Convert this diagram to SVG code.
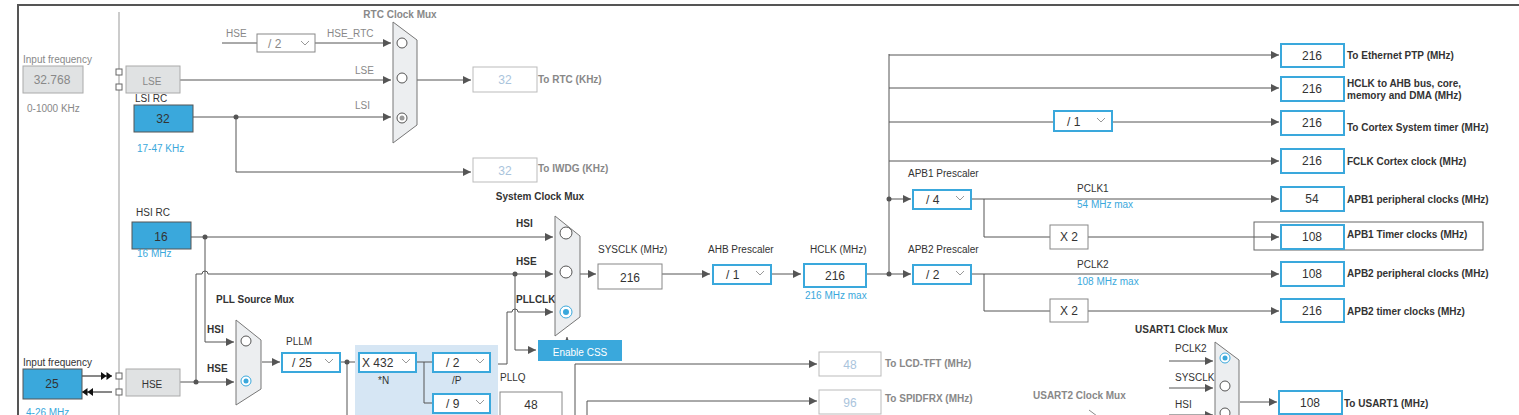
<svg xmlns="http://www.w3.org/2000/svg" width="1519" height="415" viewBox="0 0 1519 415">
<style>
text{font-family:"Liberation Sans",Arial,sans-serif;font-size:10px;fill:#333}
.b{font-weight:bold}
.g{fill:#888}
.bl{fill:#3aa8dc}
.w{fill:#fff}
.lt{fill:#aac4dc}
.c{text-anchor:middle}
.big{font-size:12px}
.ln{stroke:#555;stroke-width:1;fill:none}
.box{fill:#fff;stroke:#3aa8dc;stroke-width:2}
.gbox{fill:#fff;stroke:#888;stroke-width:1}
.lbox{fill:#fff;stroke:#bbb;stroke-width:1}
.blue{fill:#3aa8dc;stroke:#555;stroke-width:1}
.gray{fill:#e0e2e3;stroke:#aaa;stroke-width:1}
.mux{fill:#eceef0;stroke:#777;stroke-width:1}
.ci{fill:#fff;stroke:#555;stroke-width:1}
.sel{fill:#fff;stroke:#3aa8dc;stroke-width:1}
.dot{fill:#555}
.chev{fill:none;stroke:#999;stroke-width:1}
</style>
<defs>
<marker id="a" viewBox="0 0 10 10" refX="10" refY="5" markerWidth="8" markerHeight="8" orient="auto" markerUnits="userSpaceOnUse"><path d="M0,0L10,5L0,10z" fill="#555"/></marker>
<marker id="dbl" viewBox="0 0 14 10" refX="14" refY="5" markerWidth="11" markerHeight="8" orient="auto" markerUnits="userSpaceOnUse"><path d="M0,0L7,5L0,10zM7,0L14,5L7,10z" fill="#111"/></marker>
</defs>
<rect width="1519" height="415" fill="#fff"/>
<path d="M18,415V5H1519" stroke="#555" stroke-width="2" fill="none"/>
<line x1="119" y1="12" x2="119" y2="415" stroke="#999"/>

<g id="connectors">
<path class="ln" d="M222,43H257M315,43H391" marker-end="url(#a)"/>
<path class="ln" d="M180,80H391" marker-end="url(#a)"/>
<path class="ln" d="M193,117H391" marker-end="url(#a)"/>
<path class="ln" d="M236,117V172H471" marker-end="url(#a)"/>
<path class="ln" d="M417,80H471" marker-end="url(#a)"/>
<path class="ln" d="M191,237H553" marker-end="url(#a)"/>
<path class="ln" d="M205,237V342H234" marker-end="url(#a)"/>
<path class="ln" d="M196,382V274H202a3,3 0 0 1 6,0H553" marker-end="url(#a)"/>
<path class="ln" d="M180,382H234" marker-end="url(#a)"/>
<path class="ln" d="M515,274V350H536" marker-end="url(#a)"/>
<path class="ln" d="M490,364H507V312H512a3,3 0 0 1 6,0H553" marker-end="url(#a)"/>
<path class="ln" d="M567,340V337" marker-end="url(#a)"/>
<path class="ln" d="M262,362H280" marker-end="url(#a)"/>
<path class="ln" d="M340,362H358M347,362V415"/>
<path class="ln" d="M580,274H596" marker-end="url(#a)"/>
<path class="ln" d="M662,274H710" marker-end="url(#a)"/>
<path class="ln" d="M771,274H801" marker-end="url(#a)"/>
<path class="ln" d="M866,274H911" marker-end="url(#a)"/>
<path class="ln" d="M889,274V54"/>
<path class="ln" d="M889,199H911" marker-end="url(#a)"/>
<path class="ln" d="M889,55H1279" marker-end="url(#a)"/>
<path class="ln" d="M889,88H1279" marker-end="url(#a)"/>
<path class="ln" d="M889,122H1054M1112,122H1279" marker-end="url(#a)"/>
<path class="ln" d="M889,161H1279" marker-end="url(#a)"/>
<path class="ln" d="M971,199H1279" marker-end="url(#a)"/>
<path class="ln" d="M984,199V237H1050M1088,237H1279" marker-end="url(#a)"/>
<path class="ln" d="M971,274H1279" marker-end="url(#a)"/>
<path class="ln" d="M984,274V311H1050M1088,311H1279" marker-end="url(#a)"/>
<path class="ln" d="M575,415V364H817" marker-end="url(#a)"/>
<path class="ln" d="M587,415V401H817" marker-end="url(#a)"/>
<path class="ln" d="M1169,361H1213" marker-end="url(#a)"/>
<path class="ln" d="M1169,388H1213" marker-end="url(#a)"/>
<path class="ln" d="M1169,415H1213" marker-end="url(#a)"/>
<path class="ln" d="M1240,402H1277" marker-end="url(#a)"/>
<path d="M82,376H112" stroke="#111" marker-end="url(#dbl)"/>
<path d="M112,392H82" stroke="#111" marker-end="url(#dbl)"/>
<circle class="dot" cx="236" cy="117" r="2.5"/>
<circle class="dot" cx="205" cy="237" r="2.5"/>
<circle class="dot" cx="196" cy="382" r="2.5"/>
<circle class="dot" cx="515" cy="274" r="2.5"/>
<circle class="dot" cx="347" cy="362" r="2.5"/>
<circle class="dot" cx="889" cy="274" r="2.5"/>
<circle class="dot" cx="889" cy="199" r="2.5"/>
</g>

<g id="lse-input">
<text x="23" y="63" class="g">Input frequency</text>
<rect x="23" y="66" width="60" height="27" class="gray"/>
<text x="52" y="84" class="c g big">32.768</text>
<text x="27" y="112" class="g">0-1000 KHz</text>
<rect x="116" y="69" width="6" height="6" fill="#fff" stroke="#666"/>
<rect x="116" y="84" width="6" height="6" fill="#fff" stroke="#666"/>
<rect x="126" y="66" width="54" height="27" class="gray"/>
<text x="152" y="85" class="c g" font-size="15">LSE</text>
</g>
<g id="lsi">
<text x="135" y="102">LSI RC</text>
<rect x="134" y="105" width="59" height="27" class="blue"/>
<text x="163" y="123" class="c big">32</text>
<text x="137" y="152" class="bl">17-47 KHz</text>
</g>
<g id="rtc-mux">
<text x="400" y="18" class="c b g" font-size="9">RTC Clock Mux</text>
<text x="226" y="37" class="g">HSE</text>
<rect x="257" y="34" width="58" height="18" class="gbox" stroke="#aaa"/>
<text x="268" y="48" class="g big">/ 2</text>
<path class="chev" d="M301,41l4,4l4,-4"/>
<text x="327" y="37" class="g">HSE_RTC</text>
<text x="355" y="74" class="g">LSE</text>
<text x="355" y="109" class="g">LSI</text>
<path class="mux" d="M393,22L417,40V125L393,143Z"/>
<circle class="ci" cx="402" cy="43" r="5"/>
<circle class="ci" cx="402" cy="78" r="5"/>
<circle class="ci" cx="402" cy="118" r="5"/>
<circle cx="402" cy="118" r="2.5" fill="#999"/>
</g>
<g id="rtc-out">
<rect x="473" y="67" width="64" height="25" class="lbox"/>
<text x="505" y="84" class="c big lt">32</text>
<text x="538" y="83" class="b g" font-size="9">To RTC (KHz)</text>
</g>
<g id="iwdg-out">
<rect x="473" y="158" width="64" height="24" class="lbox"/>
<text x="505" y="175" class="c big lt">32</text>
<text x="538" y="172" class="b g" font-size="9">To IWDG (KHz)</text>
</g>
<g id="hsi">
<text x="136" y="216">HSI RC</text>
<rect x="132" y="222" width="59" height="27" class="blue"/>
<text x="161" y="241" class="c big">16</text>
<text x="137" y="257" class="bl">16 MHz</text>
</g>
<g id="sys-mux">
<text x="540" y="200" class="c b" font-size="9">System Clock Mux</text>
<text x="516" y="227" class="b" font-size="9">HSI</text>
<text x="516" y="265" class="b" font-size="9">HSE</text>
<text x="516" y="303" class="b" font-size="9">PLLCLK</text>
<path class="mux" d="M555,216L580,236V317L555,336Z"/>
<circle class="ci" cx="566" cy="233" r="6"/>
<circle class="ci" cx="566" cy="272" r="6"/>
<circle class="sel" cx="566" cy="312" r="6"/>
<circle cx="566" cy="312" r="3" fill="#3aa8dc"/>
</g>
<g id="css">
<rect x="538" y="340" width="84" height="21" fill="#3aa8dc"/>
<text x="580" y="356" class="c w" font-size="14">Enable CSS</text>
</g>
<g id="sysclk">
<text x="598" y="253">SYSCLK (MHz)</text>
<rect x="598" y="264" width="64" height="25" class="gbox"/>
<text x="630" y="282" class="c big">216</text>
</g>
<g id="ahb">
<text x="708" y="253">AHB Prescaler</text>
<rect x="713" y="265" width="58" height="19" class="box"/>
<text x="726" y="279" class="big">/ 1</text>
<path class="chev" d="M756,271l4,4l4,-4"/>
</g>
<g id="hclk">
<text x="810" y="253">HCLK (MHz)</text>
<rect x="804" y="264" width="62" height="23" class="box"/>
<text x="835" y="280" class="c big">216</text>
<text x="805" y="299" class="bl">216 MHz max</text>
</g>
<g id="apb1">
<text x="908" y="177">APB1 Prescaler</text>
<rect x="913" y="190" width="58" height="19" class="box"/>
<text x="926" y="204" class="big">/ 4</text>
<path class="chev" d="M956,196l4,4l4,-4"/>
<text x="1077" y="192" font-size="9" fill="#222">PCLK1</text>
<text x="1077" y="208" class="bl" font-size="9">54 MHz max</text>
<rect x="1050" y="225" width="38" height="24" class="gbox"/>
<text x="1069" y="241" class="c big">X 2</text>
</g>
<g id="apb2">
<text x="908" y="253">APB2 Prescaler</text>
<rect x="913" y="265" width="58" height="19" class="box"/>
<text x="926" y="279" class="big">/ 2</text>
<path class="chev" d="M956,271l4,4l4,-4"/>
<text x="1077" y="268" font-size="9" fill="#222">PCLK2</text>
<text x="1077" y="285" class="bl" font-size="9">108 MHz max</text>
<rect x="1050" y="299" width="38" height="23" class="gbox"/>
<text x="1069" y="315" class="c big">X 2</text>
</g>
<g id="systick-div">
<rect x="1054" y="111" width="58" height="20" class="box"/>
<text x="1067" y="126" class="big">/ 1</text>
<path class="chev" d="M1097,118l4,4l4,-4"/>
</g>
<g id="outputs">
<rect x="1281" y="44" width="63" height="23" class="box"/><text x="1312" y="60" class="c big">216</text>
<text x="1347" y="59" class="b" font-size="9">To Ethernet PTP (MHz)</text>
<rect x="1281" y="77" width="63" height="24" class="box"/><text x="1312" y="93" class="c big">216</text>
<text x="1347" y="87" class="b" font-size="9">HCLK to AHB bus, core,</text>
<text x="1347" y="99" class="b" font-size="9">memory and DMA (MHz)</text>
<rect x="1281" y="111" width="63" height="24" class="box"/><text x="1312" y="127" class="c big">216</text>
<text x="1347" y="131" class="b" font-size="9">To Cortex System timer (MHz)</text>
<rect x="1281" y="149" width="63" height="24" class="box"/><text x="1312" y="165" class="c big">216</text>
<text x="1347" y="165" class="b" font-size="9">FCLK Cortex clock (MHz)</text>
<rect x="1281" y="187" width="63" height="24" class="box"/><text x="1312" y="203" class="c big">54</text>
<text x="1347" y="203" class="b" font-size="9">APB1 peripheral clocks (MHz)</text>
<rect x="1254" y="222" width="229" height="28" fill="none" stroke="#666"/>
<rect x="1281" y="225" width="63" height="24" class="box"/><text x="1312" y="241" class="c big">108</text>
<text x="1347" y="238" class="b" font-size="9">APB1 Timer clocks (MHz)</text>
<rect x="1281" y="262" width="63" height="24" class="box"/><text x="1312" y="278" class="c big">108</text>
<text x="1347" y="277" class="b" font-size="9">APB2 peripheral clocks (MHz)</text>
<rect x="1281" y="299" width="63" height="23" class="box"/><text x="1312" y="315" class="c big">216</text>
<text x="1347" y="315" class="b" font-size="9">APB2 timer clocks (MHz)</text>
</g>
<g id="hse-input">
<text x="23" y="366">Input frequency</text>
<rect x="23" y="369" width="59" height="30" class="blue" stroke="none"/>
<text x="52" y="388" class="c big">25</text>
<text x="26" y="416" class="bl">4-26 MHz</text>
<rect x="116" y="373" width="6" height="6" fill="#fff" stroke="#666"/>
<rect x="116" y="389" width="6" height="6" fill="#fff" stroke="#666"/>
<rect x="126" y="369" width="54" height="27" class="gray"/>
<text x="152" y="388" class="c" font-size="15">HSE</text>
</g>
<g id="pll-src">
<text x="216" y="303" class="b" font-size="9">PLL Source Mux</text>
<text x="207" y="333" class="b" font-size="9" fill="#224">HSI</text>
<text x="207" y="372" class="b" font-size="9" fill="#224">HSE</text>
<path class="mux" d="M236,320L261,340V389L236,405Z"/>
<circle class="ci" cx="246" cy="341" r="5"/>
<circle class="sel" cx="246" cy="381" r="5"/>
<circle cx="246" cy="381" r="2.5" fill="#3aa8dc"/>
</g>
<g id="pll">
<text x="286" y="345">PLLM</text>
<rect x="282" y="353" width="58" height="19" class="box"/>
<text x="292" y="367" class="big">/ 25</text>
<path class="chev" d="M325,359l4,4l4,-4"/>
<rect x="355" y="345" width="143" height="70" fill="#d6e6f4"/>
<path class="ln" d="M416,362H432M424,362V403H432"/>
<rect x="359" y="353" width="57" height="19" class="box"/>
<text x="362" y="367" class="big">X 432</text>
<path class="chev" d="M402,359l4,4l4,-4"/>
<text x="378" y="384" font-size="8">*N</text>
<rect x="433" y="353" width="57" height="19" class="box"/>
<text x="446" y="367" class="big">/ 2</text>
<path class="chev" d="M476,359l4,4l4,-4"/>
<text x="452" y="384" font-size="8">/P</text>
<rect x="433" y="394" width="57" height="19" class="box"/>
<text x="446" y="408" class="big">/ 9</text>
<path class="chev" d="M476,400l4,4l4,-4"/>
<text x="500" y="381">PLLQ</text>
<rect x="500" y="392" width="62" height="25" class="gbox"/>
<text x="531" y="409" class="c big">48</text>
</g>
<g id="lcd-out">
<rect x="819" y="352" width="62" height="24" class="lbox"/>
<text x="850" y="369" class="c big lt">48</text>
<text x="885" y="367" class="b g" font-size="9">To LCD-TFT (MHz)</text>
</g>
<g id="spdif-out">
<rect x="819" y="390" width="62" height="24" class="lbox"/>
<text x="850" y="407" class="c big lt">96</text>
<text x="885" y="402" class="b g" font-size="9">To SPIDFRX (MHz)</text>
</g>
<g id="usart2-mux">
<text x="1033" y="399" class="b g" font-size="9">USART2 Clock Mux</text>
<path d="M1089,410L1097,416" stroke="#888" fill="none"/>
</g>
<g id="usart1-mux">
<text x="1135" y="333" class="b" font-size="9">USART1 Clock Mux</text>
<text x="1175" y="352" font-size="9">PCLK2</text>
<text x="1175" y="381" font-size="9">SYSCLK</text>
<text x="1175" y="408" font-size="9">HSI</text>
<path class="mux" d="M1215,342L1239,360V420H1215Z"/>
<circle class="sel" cx="1225" cy="358" r="5"/>
<circle cx="1225" cy="358" r="2.5" fill="#3aa8dc"/>
<circle class="ci" cx="1225" cy="386" r="5"/>
<circle class="ci" cx="1225" cy="413" r="5"/>
<rect x="1279" y="391" width="63" height="23" class="box"/>
<text x="1310" y="407" class="c big">108</text>
<text x="1344" y="407" class="b" font-size="9">To USART1 (MHz)</text>
</g>
</svg>
